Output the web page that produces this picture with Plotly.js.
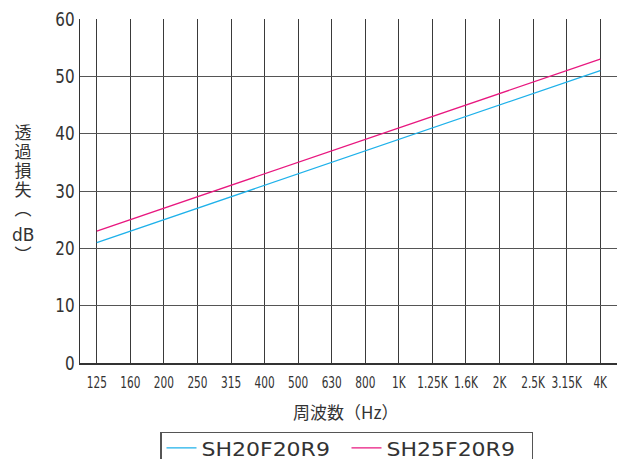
<!DOCTYPE html>
<html><head><meta charset="utf-8">
<script src="https://cdn.plot.ly/plotly-3.0.1.min.js"></script>
<style>body{margin:0;padding:0;background:#fff}#c{width:617px;height:459px}</style>
</head><body><div id="c"></div>
<script>
const freqLabels = ["125","160","200","250","315","400","500","630","800","1K","1.25K","1.6K","2K","2.5K","3.15K","4K"];
const sh20 = [21,23,25,27,29,31,33,35,37,39,41,43,45,47,49,51];
const sh25 = [23,25,27,29,31,33,35,37,39,41,43,45,47,49,51,53];
const seriesNames = ["SH20F20R9","SH25F20R9"];
const yTitleMain = "透過損失（";
const yTitleUnit = "dB";
const yTitleEnd = "）";
const xTitle = "周波数（Hz）";

const L = 80, T = 19, W = 537, H = 344;
const px = v => (v-L)/W, py = v => (T+H-v)/H;
const cjk = (s)=>({family:'Noto Sans CJK JP', size:s, color:'#333'});
const ann = [
  {xref:'paper', yref:'paper', x:px(23), y:py(170), xanchor:'center', yanchor:'middle', showarrow:false, text:yTitleMain, font:cjk(17)},
  {xref:'paper', yref:'paper', x:px(23), y:py(235), xanchor:'center', yanchor:'middle', showarrow:false, text:yTitleUnit, font:{family:'DejaVu Sans', size:17, color:'#333'}},
  {xref:'paper', yref:'paper', x:px(23), y:py(255), xanchor:'center', yanchor:'middle', showarrow:false, text:yTitleEnd, font:cjk(17)},
  {xref:'paper', yref:'paper', x:px(345), y:py(411), xanchor:'center', yanchor:'middle', showarrow:false, text:xTitle, font:cjk(17)}
];

const data = [
  {x: freqLabels, y: sh20, name: seriesNames[0], type:'scatter', mode:'lines', line:{color:'#1eb1ea', width:1.3}},
  {x: freqLabels, y: sh25, name: seriesNames[1], type:'scatter', mode:'lines', line:{color:'#e8177f', width:1.3}}
];
const layout = {
  width:617, height:459,
  margin:{l:L, r:0, t:T, b:96, autoexpand:false},
  paper_bgcolor:'#fff', plot_bgcolor:'#fff',
  showlegend:true,
  legend:{orientation:'h', x:px(160), xanchor:'left', y:-0.2, yanchor:'top', entrywidth:140, entrywidthmode:'pixels',
    bordercolor:'#555', borderwidth:1.5, font:{family:'DejaVu Sans', size:20, color:'#333'}},
  xaxis:{type:'category', range:[-0.5,15.5], showgrid:true, gridcolor:'#3a3a3a', gridwidth:1,
    showline:true, linecolor:'#333', linewidth:1.5, ticks:'', zeroline:false, tickangle:0, automargin:false,
    ticklabelstandoff:4,
    tickfont:{family:'DejaVu Sans', size:16, color:'#333'}},
  yaxis:{range:[0,60], dtick:10, showgrid:true, gridcolor:'#555', gridwidth:1, automargin:false,
    showline:true, linecolor:'#333', linewidth:1.5, ticks:'', zeroline:false,
    tickfont:{family:'DejaVu Sans', size:19, color:'#333'}},
  annotations: ann
};
Plotly.newPlot('c', data, layout, {displayModeBar:false, staticPlot:true}).then(gd=>{
  const scaleX = (sel, f) => document.querySelectorAll(sel).forEach(t=>{
    const x = +(t.getAttribute('x')||0), y = +(t.getAttribute('y')||0);
    const ex = t.getAttribute('transform')||'';
    t.setAttribute('transform', ex + ` translate(${x},${y}) scale(${f},1) translate(${-x},${-y})`);
  });
  scaleX('.xtick text', 0.66);
  scaleX('.ytick text', 0.8);
  scaleX('.legendtext', 1.1);
  document.querySelectorAll('.legend .traces').forEach(g=>{
    const ex = g.getAttribute('transform')||'';
    g.setAttribute('transform', ex + ' translate(0,-5)');
  });
  // vertical Japanese writing for the y-axis title pieces
  const placeVertical = (t, cx, top) => {
    t.style.writingMode = 'vertical-rl';
    t.style.letterSpacing = '2px';
    t.setAttribute('text-anchor','start');
    const b = t.getBoundingClientRect();
    const dx = cx - (b.left + b.width/2), dy = top - b.top;
    const ex = t.getAttribute('transform')||'';
    t.setAttribute('transform', `translate(${dx},${dy}) ` + ex);
  };
  document.querySelectorAll('.annotation-text').forEach(t=>{
    const s = t.textContent;
    if (s === yTitleMain) placeVertical(t, 23, 124);
    if (s === yTitleEnd) placeVertical(t, 23, 246);
  });
});
</script></body></html>
